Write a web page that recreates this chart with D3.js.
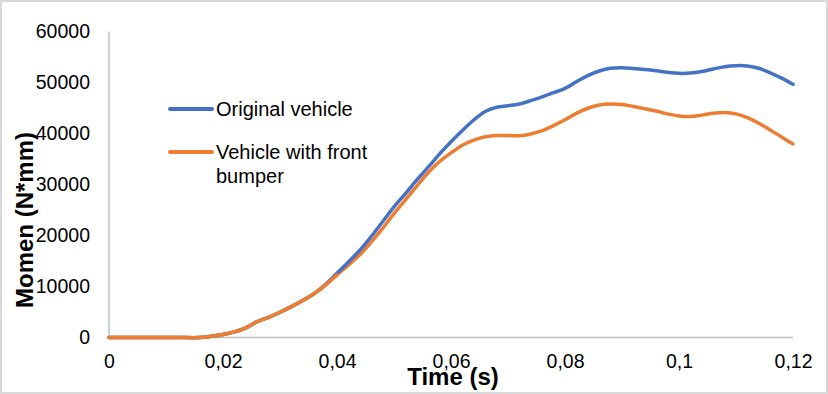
<!DOCTYPE html>
<html>
<head>
<meta charset="utf-8">
<script src="https://cdn.jsdelivr.net/npm/d3@7"></script>
<style>
  body { margin: 0; background: #fff; }
  svg { font-family: "Liberation Sans", Arial, sans-serif; display: block; }
</style>
</head>
<body>
<svg id="chart"></svg>
<script>
// time (s)
const time = [0, 0.004, 0.008, 0.012, 0.016, 0.018, 0.02, 0.022, 0.024, 0.026, 0.028, 0.03, 0.032, 0.034, 0.036, 0.038,
  0.04, 0.042, 0.044, 0.046, 0.048, 0.05, 0.052, 0.054, 0.056, 0.058, 0.06, 0.062, 0.064, 0.066, 0.068, 0.07,
  0.072, 0.074, 0.076, 0.078, 0.08, 0.082, 0.084, 0.086, 0.088, 0.09, 0.092, 0.094, 0.096, 0.098, 0.1,
  0.102, 0.104, 0.106, 0.108, 0.11, 0.112, 0.114, 0.116, 0.118, 0.12];

const original = [0, 0, 0, 0, 0, 250, 600, 1100, 1900, 3100, 3950, 4950, 6050, 7250, 8600, 10400,
  12600, 14800, 17100, 19800, 22700, 25600, 28200, 30900, 33400, 36000, 38400, 40600, 42650, 44300, 45150, 45450,
  45800, 46450, 47200, 48000, 48850, 50150, 51350, 52250, 52800, 52900, 52750, 52550, 52300, 52000, 51800,
  51850, 52150, 52650, 53100, 53300, 53250, 52800, 51900, 50850, 49650];

const withBumper = [0, 0, 0, 0, 0, 250, 600, 1100, 1900, 3100, 3950, 4950, 6050, 7250, 8600, 10300,
  12300, 14200, 16200, 18700, 21400, 24300, 27000, 29700, 32300, 34500, 36200, 37700, 38700, 39350, 39600, 39600,
  39550, 39900, 40550, 41550, 42700, 43950, 44950, 45600, 45800, 45700, 45300, 44850, 44400, 43850, 43450,
  43350, 43600, 43950, 44100, 43850, 43100, 42000, 40700, 39300, 37950];

const seriesNames = ["Original vehicle", "Vehicle with front", "bumper"];
const colors = ["#4472C4", "#ED7D31"];

const xTicks = [0, 0.02, 0.04, 0.06, 0.08, 0.1, 0.12];
const xTickLabels = ["0", "0,02", "0,04", "0,06", "0,08", "0,1", "0,12"];
const yTicks = [0, 10000, 20000, 30000, 40000, 50000, 60000];

const width = 828, height = 394;

const svg = d3.select("#chart")
  .attr("width", width)
  .attr("height", height);

// outer frame
svg.append("rect")
  .attr("x", 1).attr("y", 1)
  .attr("width", width - 2).attr("height", height - 2)
  .attr("fill", "#fff")
  .attr("stroke", "#d9d9d9")
  .attr("stroke-width", 2);

const xScale = d3.scaleLinear().domain([0, 0.12]).range([109, 793]);
const yScale = d3.scaleLinear().domain([0, 60000]).range([337.5, 31.5]);

// y axis
const yAxis = d3.axisLeft(yScale).tickValues(yTicks).tickSize(0).tickPadding(19).tickFormat(d3.format("d"));
const gy = svg.append("g").attr("transform", `translate(${xScale(0)},0)`).call(yAxis);
gy.select(".domain").remove();
gy.selectAll("text").attr("font-size", 19.5).attr("fill", "#000").attr("font-family", null);

svg.append("line")
  .attr("x1", xScale(0)).attr("x2", xScale(0))
  .attr("y1", yScale(60000)).attr("y2", yScale(0))
  .attr("stroke", "#c0c0c0").attr("stroke-width", 1.5);

// x axis
const xAxis = d3.axisBottom(xScale).tickValues(xTicks).tickSize(0).tickPadding(17)
  .tickFormat((d, i) => xTickLabels[i]);
const gx = svg.append("g").attr("transform", `translate(0,${yScale(0)})`).call(xAxis);
gx.select(".domain").remove();
gx.selectAll("text").attr("font-size", 19.5).attr("fill", "#000").attr("font-family", null);

svg.append("line")
  .attr("x1", xScale(0)).attr("x2", xScale(0.12))
  .attr("y1", yScale(0)).attr("y2", yScale(0))
  .attr("stroke", "#c0c0c0").attr("stroke-width", 1.5);

// lines (smoothed like the spreadsheet)
const line = d3.line()
  .x((d, i) => xScale(time[i]))
  .y(d => yScale(d))
  .curve(d3.curveCatmullRom.alpha(0.5));

[withBumper, original].forEach((s, k) => {
  svg.append("path")
    .datum(s)
    .attr("fill", "none")
    .attr("stroke", k === 0 ? colors[1] : colors[0])
    .attr("stroke-width", 3.5)
    .attr("stroke-linecap", "round")
    .attr("d", line);
});
// orange drawn on top in the early part where both overlap
svg.append("path")
  .datum(withBumper.slice(0, 17))
  .attr("fill", "none")
  .attr("stroke", colors[1])
  .attr("stroke-width", 3.5)
  .attr("stroke-linecap", "round")
  .attr("d", line);

// axis titles
svg.append("text")
  .attr("x", 453).attr("y", 385)
  .attr("text-anchor", "middle")
  .attr("font-size", 24).attr("font-weight", "bold")
  .text("Time (s)");

svg.append("text")
  .attr("transform", "translate(33,220) rotate(-90)")
  .attr("text-anchor", "middle")
  .attr("font-size", 24).attr("font-weight", "bold")
  .text("Momen (N*mm)");

// legend
const legend = svg.append("g");
legend.append("line").attr("x1", 170).attr("x2", 212).attr("y1", 109).attr("y2", 109)
  .attr("stroke", colors[0]).attr("stroke-width", 4).attr("stroke-linecap", "round");
legend.append("text").attr("x", 216).attr("y", 116).attr("font-size", 20).text(seriesNames[0]);
legend.append("line").attr("x1", 170).attr("x2", 212).attr("y1", 152).attr("y2", 152)
  .attr("stroke", colors[1]).attr("stroke-width", 4).attr("stroke-linecap", "round");
legend.append("text").attr("x", 216).attr("y", 159).attr("font-size", 20).text(seriesNames[1]);
legend.append("text").attr("x", 216).attr("y", 183).attr("font-size", 20).text(seriesNames[2]);
</script>
</body>
</html>
